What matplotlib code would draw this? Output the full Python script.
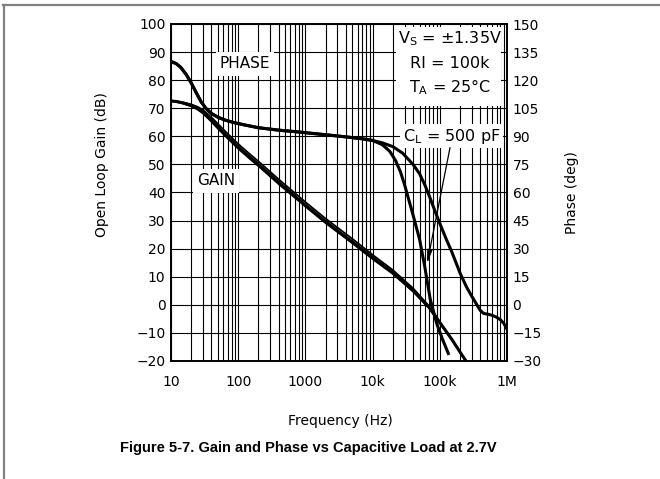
import matplotlib
matplotlib.use("Agg")
import matplotlib.pyplot as plt
from matplotlib.lines import Line2D
from matplotlib.patches import Rectangle
from matplotlib.ticker import LogLocator, NullFormatter, FixedLocator, FixedFormatter
import numpy as np

# open loop gain (dB) for the load curves
gain_freq = [10, 12, 15, 20, 25, 30, 40, 50, 70, 100, 150, 200, 400, 1000, 2000, 5000,
             10000, 20000, 40000, 70000, 100000, 150000, 200000, 250000]
gain_a = [72.6, 72.4, 71.9, 71.0, 69.9, 68.6, 65.8, 63.3, 59.8, 56.2, 52.5, 50.0, 43.6,
          35.5, 29.6, 22.4, 16.8, 11.5, 5.2, -1.0, -6.3, -12.2, -16.8, -20.3]
gain_b = [72.6, 72.5, 72.1, 71.4, 70.5, 69.4, 66.8, 64.4, 60.9, 57.3, 53.6, 51.1, 44.7,
          36.6, 30.7, 23.5, 17.8, 12.4, 5.9, -0.6, -6.1, -12.2, -16.8, -20.3]
gain_c = [72.5, 72.3, 71.7, 70.7, 69.5, 68.1, 65.2, 62.7, 59.2, 55.6, 51.9, 49.4, 43.0,
          35.0, 29.1, 21.9, 16.3, 11.0, 4.7, -1.3, -6.5, -12.2, -16.8, -20.3]

# phase (deg), common low frequency part
phase_freq_lo = [10, 12, 14, 17, 20, 24, 28, 33, 40, 50, 65, 85, 120, 200, 400, 700,
                 1500, 3000, 5000, 7000, 10000]
phase_lo = [130, 128.8, 126.8, 122.8, 118.5, 113, 108.5, 105, 102.2, 100.2, 98.6, 97.4,
            96.2, 94.6, 93.3, 92.5, 91.3, 90.2, 89.3, 88.7, 87.8]
# light load
phase_freq_b = [14000, 20000, 28000, 40000, 50000, 60000, 70000, 85000, 100000, 125000,
                150000, 200000, 250000, 300000, 350000, 400000, 450000, 520000, 600000,
                700000, 800000, 900000, 1000000]
phase_b = [86.5, 84.5, 81, 75, 70, 64, 58, 50, 43.5, 35, 28.5, 17, 9.5, 4.5, 0.5, -3,
           -4.6, -5.0, -5.6, -6.6, -8, -10, -13]
# C_L = 500 pF
phase_freq_a = [14000, 18000, 22000, 26000, 30000, 34000, 40000, 50000, 60000, 72000,
                90000, 110000, 134000]
phase_a = [85.5, 82, 77, 71, 64, 57, 48, 35, 20, 3, -10, -18.5, -26]

x_ticks = [10, 100, 1000, 1e4, 1e5, 1e6]
x_labels = ['10', '100', '1000', '10k', '100k', '1M']
gain_ticks = list(range(-20, 101, 10))
phase_ticks = list(range(-30, 151, 15))

W, H = 660, 479
fig = plt.figure(figsize=(W / 100, H / 100), dpi=100)
ax = fig.add_axes([171 / W, 1 - 361 / H, 336 / W, 337 / H])

ax.set_xscale('log')
ax.set_xlim(10, 1e6)
ax.set_ylim(-20, 100)
ax.xaxis.set_major_locator(FixedLocator(x_ticks))
ax.xaxis.set_major_formatter(FixedFormatter(x_labels))
ax.xaxis.set_minor_locator(LogLocator(base=10, subs=np.arange(2, 10)))
ax.xaxis.set_minor_formatter(NullFormatter())
ax.set_yticks(gain_ticks)
ax.grid(which='both', color='black', lw=0.8)
ax.tick_params(which='both', length=0, labelsize=10)
ax.tick_params(axis='x', pad=10)
ax.tick_params(axis='y', pad=4)
for s in ax.spines.values():
    s.set_linewidth(1.2)

ax.plot(gain_freq, gain_b, color='black', lw=1.3)
ax.plot(gain_freq, gain_c, color='black', lw=1.3)
ax.plot(gain_freq, gain_a, color='black', lw=2.2)

ax2 = ax.twinx()
ax2.set_ylim(-30, 150)
ax2.set_yticks(phase_ticks)
ax2.tick_params(length=0, labelsize=10, pad=4)
for s in ax2.spines.values():
    s.set_linewidth(1.2)
ax2.plot(phase_freq_lo + phase_freq_b, phase_lo + phase_b, color='black', lw=2.2)
ax2.plot(phase_freq_lo + phase_freq_a, phase_lo + phase_a, color='black', lw=2.2)

box = dict(facecolor='white', edgecolor='none', pad=3)
ax.text(126, 85.8, 'PHASE', ha='center', va='center', fontsize=11, bbox=box, zorder=4)
ax.text(46.7, 44.1, 'GAIN', ha='center', va='center', fontsize=11, bbox=box, zorder=4)

ax.add_patch(Rectangle((0.670, 0.757), 0.312, 0.234, transform=ax.transAxes,
                       facecolor='white', edgecolor='none', zorder=3))
ax.text(142000, 94.8, 'V$_\\mathregular{S}$ = ±1.35V', ha='center', va='center', fontsize=11.5, zorder=4)
ax.text(142000, 86.0, 'RI = 100k', ha='center', va='center', fontsize=11.5, zorder=4)
ax.text(142000, 77.5, 'T$_\\mathregular{A}$ = 25°C', ha='center', va='center', fontsize=11.5, zorder=4)

ax.text(151000, 60.1, 'C$_\\mathregular{L}$ = 500 pF', ha='center', va='center', fontsize=11.5,
        bbox=dict(facecolor='white', edgecolor='none', pad=2), zorder=4)
ax.annotate('', xy=(64600, 14.6), xytext=(142000, 56),
            arrowprops=dict(arrowstyle='-|>,head_length=0.8,head_width=0.15',
                            color='black', lw=0.9, shrinkA=0, shrinkB=0), zorder=4)

fig.text(102 / W, 1 - 165 / H, 'Open Loop Gain (dB)', rotation=90, ha='center', va='center', fontsize=10)
fig.text(572 / W, 1 - 193 / H, 'Phase (deg)', rotation=90, ha='center', va='center', fontsize=10)
fig.text(340 / W, 1 - 421 / H, 'Frequency (Hz)', ha='center', va='center', fontsize=10)
fig.text(308 / W, 1 - 448 / H, 'Figure 5-7. Gain and Phase vs Capacitive Load at 2.7V',
         ha='center', va='center', fontsize=10.5, fontweight='bold', family='Liberation Sans')

# grey page border (top and left only)
fig.add_artist(Line2D([3 / W, 1], [1 - 4.5 / H, 1 - 4.5 / H], color='#808080', lw=1.6))
fig.add_artist(Line2D([3.5 / W, 3.5 / W], [0, 1 - 4.5 / H], color='#808080', lw=1.6))

fig.savefig('out.png', dpi=100)
